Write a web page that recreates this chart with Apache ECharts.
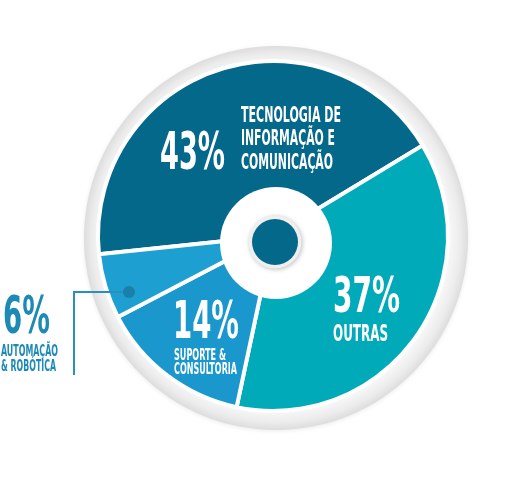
<!DOCTYPE html>
<html>
<head>
<meta charset="utf-8">
<script src="https://cdn.jsdelivr.net/npm/echarts@6/dist/echarts.min.js"></script>
<style>html,body{margin:0;padding:0;background:#fff}#c{width:515px;height:480px}</style>
</head>
<body>
<div id="c"></div>
<script>
// ---- data ----
const categories = ['Tecnologia de Informação e Comunicação', 'Outras', 'Suporte & Consultoria', 'Automação & Robótica'];
const values = [43, 37, 14, 6];
const percentLabels = ['43%', '37%', '14%', '6%'];
const nameLines = [
  ['TECNOLOGIA DE', 'INFORMAÇÃO E', 'COMUNICAÇÃO'],
  ['OUTRAS'],
  ['SUPORTE &', 'CONSULTORIA'],
  ['AUTOMAÇÃO', '& ROBÓTICA']
];

// ---- styles / layout ----
const sliceColors = ['#04688a', '#01aab9', '#1a97cc', '#1d9fd1'];
const FONT_FAM = "'Liberation Sans Narrow','DejaVu Sans Condensed','Roboto Condensed',sans-serif";
const pctLayout = [
  {x: 160, y: 156, size: 48, w: 65, color: '#ffffff'},
  {x: 333, y: 299, size: 46, w: 67, color: '#ffffff'},
  {x: 173, y: 325, size: 48, w: 66, color: '#ffffff'},
  {x: 3,   y: 320, size: 48, w: 47, color: '#1d8ab6'}
];
const nameLayout = [
  {x: 241, y: [116, 139.5, 163], size: 20, w: [100, 94, 92], color: '#ffffff'},
  {x: 333, y: [335], size: 21, w: [55], color: '#ffffff'},
  {x: 174, y: [356, 370.5], size: 14, w: [52, 63], color: '#ffffff'},
  {x: 1,   y: [352, 367], size: 15, w: [57, 55], color: '#1d8ab6'}
];

const mctx = document.createElement('canvas').getContext('2d');
function textEl(text, x, y, size, w, color) {
  const font = 'bold ' + size + 'px ' + FONT_FAM;
  mctx.font = font;
  const mw = mctx.measureText(text).width || 1;
  return {
    type: 'text', x: x, y: y, scaleX: w / mw, scaleY: 1.08, z: 100, silent: true,
    style: {text: text, font: font, fill: color, align: 'left', verticalAlign: 'middle',
            textAlign: 'left', textVerticalAlign: 'middle'}
  };
}

const graphics = [];
percentLabels.forEach((t, i) => {
  const L = pctLayout[i];
  graphics.push(textEl(t, L.x, L.y, L.size, L.w, L.color));
});
nameLines.forEach((lines, i) => {
  const L = nameLayout[i];
  lines.forEach((t, j) => graphics.push(textEl(t, L.x, L.y[j], L.size, L.w[j], L.color)));
});
// callout for the small slice
graphics.push({type: 'polyline', z: 90, silent: true,
  shape: {points: [[129, 292], [74, 292], [74, 375]]},
  style: {stroke: '#2a8fb9', lineWidth: 2, fill: null}});
graphics.push({type: 'circle', z: 91, silent: true,
  shape: {cx: 129, cy: 292, r: 6}, style: {fill: '#1a80aa'}});

const chart = echarts.init(document.getElementById('c'), null, {renderer: 'canvas'});
chart.setOption({
  animation: false,
  backgroundColor: '#ffffff',
  series: [
    { // outer grey plate
      type: 'pie', silent: true, center: [276, 238], radius: [0, 192], z: 1,
      label: {show: false}, labelLine: {show: false},
      data: [{value: 1, itemStyle: {
        color: {type: 'radial', x: 0.5, y: 0.5, r: 0.5, colorStops: [
          {offset: 0, color: '#fbfbfb'}, {offset: 0.9, color: '#f8f8f8'},
          {offset: 0.96, color: '#ececec'}, {offset: 1, color: '#dddddd'}]},
        shadowBlur: 4, shadowColor: 'rgba(0,0,0,0.08)', shadowOffsetY: 1}}]
    },
    { // main pie
      type: 'pie', silent: true, center: [273, 236], radius: [0, 175], z: 2,
      startAngle: 186, clockwise: true,
      label: {show: false}, labelLine: {show: false},
      itemStyle: {borderColor: '#ffffff', borderWidth: 4},
      data: categories.map((c, i) => ({name: c, value: values[i], itemStyle: {color: sliceColors[i]}}))
    },
    { // white hole
      type: 'pie', silent: true, center: [276, 243], radius: [0, 56], z: 3,
      label: {show: false}, labelLine: {show: false},
      data: [{value: 1, itemStyle: {color: '#ffffff'}}]
    },
    { // inner shadow ring
      type: 'pie', silent: true, center: [275, 242], radius: [0, 26.5], z: 4,
      label: {show: false}, labelLine: {show: false},
      data: [{value: 1, itemStyle: {color: '#efefef', shadowBlur: 4, shadowColor: 'rgba(0,0,0,0.25)', shadowOffsetX: 1, shadowOffsetY: 1}}]
    },
    { // dark centre
      type: 'pie', silent: true, center: [275, 242], radius: [0, 23], z: 5,
      label: {show: false}, labelLine: {show: false},
      data: [{value: 1, itemStyle: {color: sliceColors[0]}}]
    }
  ],
  graphic: graphics
});
</script>
</body>
</html>
